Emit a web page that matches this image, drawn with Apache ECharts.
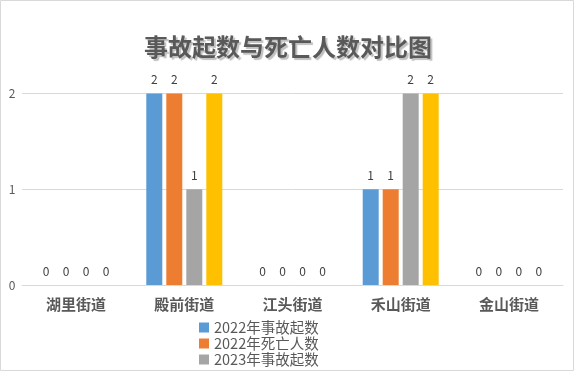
<!DOCTYPE html>
<html><head><meta charset="utf-8">
<script src="https://cdn.jsdelivr.net/npm/echarts@6/dist/echarts.min.js"></script>
<style>html,body{margin:0;padding:0;background:#fff}#c{width:576px;height:373px}</style>
</head><body><div id="c"></div>
<script>
const categories = ['湖里街道','殿前街道','江头街道','禾山街道','金山街道'];
const seriesNames = ['2022年事故起数','2022年死亡人数','2023年事故起数','2023年死亡人数'];
const acc2022 = [0,2,0,1,0];
const death2022 = [0,2,0,1,0];
const acc2023 = [0,1,0,2,0];
const death2023 = [0,2,0,2,0];
const yTicks = [0,1,2];
const colors = ['#5B9BD5','#ED7D31','#A5A5A5','#FFC000'];
const values = [acc2022, death2022, acc2023, death2023];
const font = '"Noto Sans CJK SC", "Noto Sans", sans-serif';
const chart = echarts.init(document.getElementById('c'), null, {renderer:'canvas'});
chart.setOption({
  animation:false,
  color: colors,
  title:{
    text:'事故起数与死亡人数对比图', left:'center', top:30,
    textStyle:{fontFamily:font, fontSize:24, fontWeight:'bold', color:'#595959',
      textShadowColor:'rgba(0,0,0,0.25)', textShadowOffsetX:2, textShadowOffsetY:2, textShadowBlur:1}
  },
  graphic:[{type:'rect', shape:{x:0.5,y:0.5,width:573,height:370}, style:{fill:'none', stroke:'#d9d9d9', lineWidth:1}, silent:true}],
  legend:{
    data: seriesNames.slice(0,3), orient:'vertical', left:194, top:315, itemGap:1, height:120,
    itemWidth:10, itemHeight:10, icon:'rect',
    textStyle:{fontFamily:font, fontSize:14.5, color:'#595959', lineHeight:15}
  },
  grid:{left:22, right:13, top:93.5, bottom:88, containLabel:false},
  xAxis:{
    type:'category', data:categories,
    axisLine:{show:true, lineStyle:{color:'#d9d9d9'}}, axisTick:{show:false},
    axisLabel:{fontFamily:font, fontSize:15, fontWeight:'bold', color:'#595959', margin:12}
  },
  yAxis:{
    type:'value', min:yTicks[0], max:yTicks[yTicks.length-1], interval:1,
    axisLine:{show:false}, axisTick:{show:false},
    splitLine:{lineStyle:{color:'#d9d9d9'}},
    axisLabel:{fontFamily:font, fontSize:12, color:'#595959', margin:10, align:'center'}
  },
  series: values.map((v,i)=>({
    name: seriesNames[i], type:'bar', data:v, barWidth:16, barGap:'25%',
    label:{show:true, position:'top', distance:8, fontFamily:font, fontSize:12, color:'#404040'}
  }))
});
</script></body></html>
